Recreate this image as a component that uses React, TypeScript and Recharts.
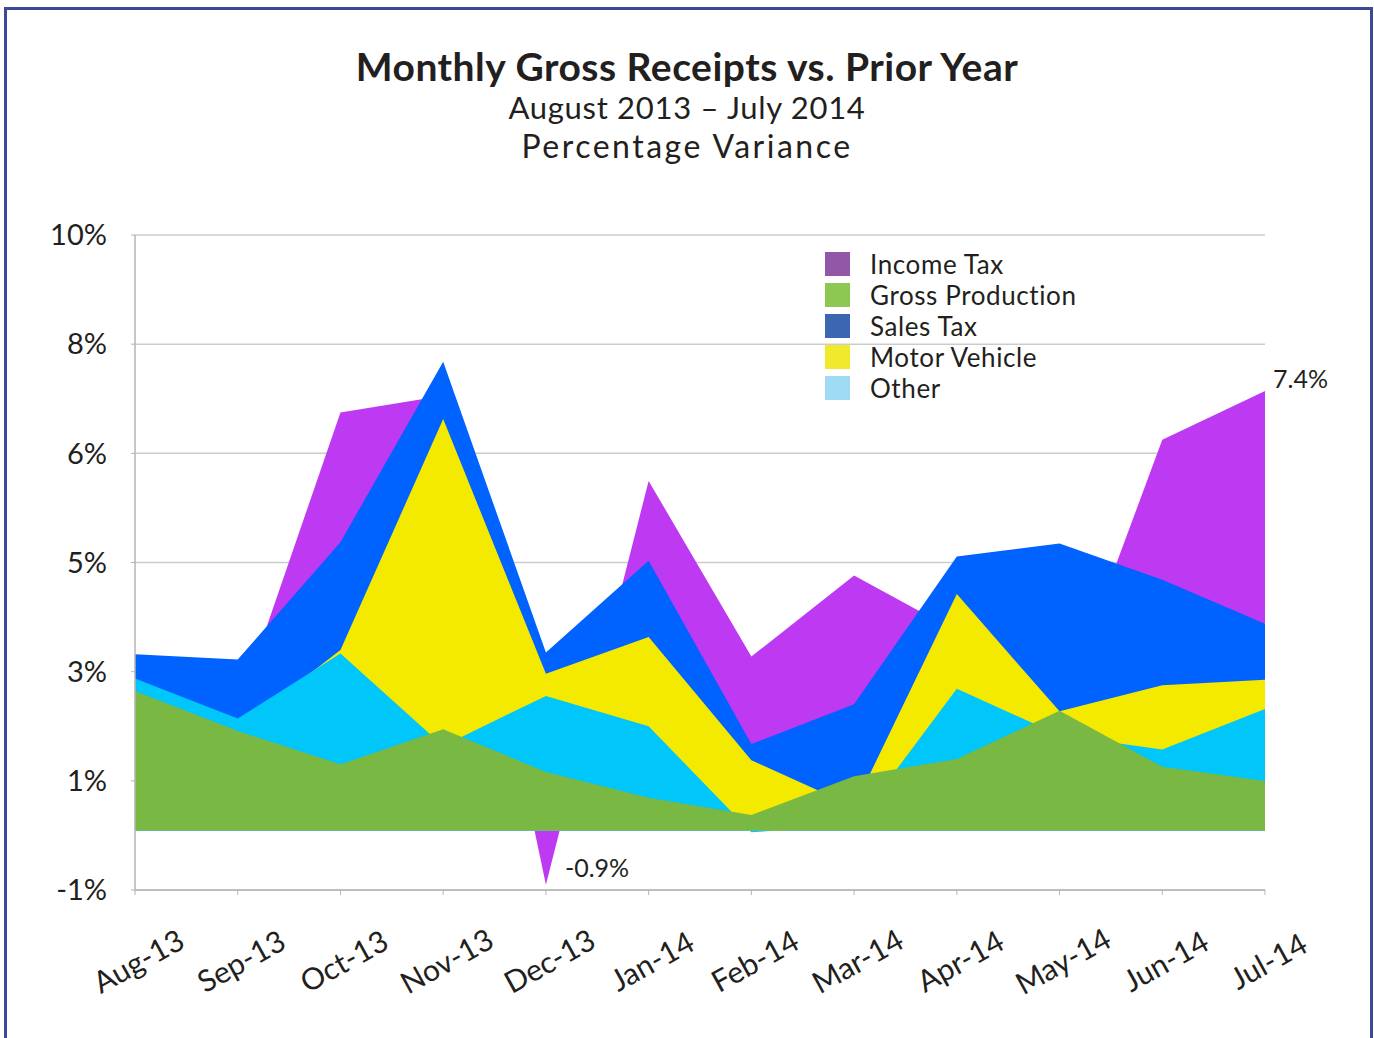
import React from 'react';
import { AreaChart, Area, XAxis, YAxis, CartesianGrid, LabelList } from 'recharts';

// values (percent variance vs prior year)
const months = ['Aug-13', 'Sep-13', 'Oct-13', 'Nov-13', 'Dec-13', 'Jan-14', 'Feb-14', 'Mar-14', 'Apr-14', 'May-14', 'Jun-14', 'Jul-14'];
const incomeTax = [2.5, 2.01, 7.02, 7.3, -0.91, 5.87, 2.92, 4.28, 3.34, 1.91, 6.56, 7.38];
const salesTax = [2.96, 2.87, 4.84, 7.87, 2.99, 4.53, 1.45, 2.12, 4.6, 4.82, 4.21, 3.47];
const motorVehicle = [2.5, 1.7, 3.03, 6.91, 2.63, 3.25, 1.18, 0.4, 3.97, 2.0, 2.44, 2.53];
const other = [2.55, 1.88, 2.97, 1.42, 2.26, 1.75, -0.03, 0.07, 2.38, 1.6, 1.36, 2.04];
const grossProduction = [2.34, 1.67, 1.11, 1.7, 0.98, 0.55, 0.26, 0.91, 1.2, 2.01, 1.07, 0.83];

// the axis runs -1..10 in six equal steps, labels are rounded
const yTicks = [-1, 0.8333, 2.6667, 4.5, 6.3333, 8.1667, 10];
const yTickLabels = ['-1%', '1%', '3%', '5%', '6%', '8%', '10%'];

const labeledMonths = ['Dec-13', 'Jul-14'];

const legendItems = [
  { name: 'Income Tax', color: '#9257a6' },
  { name: 'Gross Production', color: '#8cc852' },
  { name: 'Sales Tax', color: '#3c66b1' },
  { name: 'Motor Vehicle', color: '#f1e92b' },
  { name: 'Other', color: '#9fdcf4' },
];

const font = 'Lato, "Open Sans", sans-serif';
const textColor = '#231f20';

const data = months.map((m, i) => ({
  month: m,
  incomeTax: incomeTax[i],
  salesTax: salesTax[i],
  motorVehicle: motorVehicle[i],
  other: other[i],
  grossProduction: grossProduction[i],
}));

const XTick = (props: any) => {
  const { x, payload } = props;
  const cx = x + 3;
  const cy = 960;
  return (
    <text
      x={cx}
      y={cy}
      transform={`rotate(-29, ${cx}, ${cy})`}
      textAnchor="middle"
      dominantBaseline="central"
      fontSize={30}
      fontFamily={font}
      fill={textColor}
    >
      {payload.value}
    </text>
  );
};

const PointLabel = (props: any) => {
  const { x, y, value, index } = props;
  if (!labeledMonths.includes(months[index])) return null;
  const below = value < 0;
  return (
    <text
      x={x + (below ? 19 : 8)}
      y={y + (below ? -18 : -13)}
      dominantBaseline="central"
      fontSize={25}
      fontFamily={font}
      fill={textColor}
    >
      {`${Number(value).toFixed(1)}%`}
    </text>
  );
};

const Title = ({ text, top, size, weight, spacing }: { text: string; top: number; size: number; weight: number; spacing: number }) => (
  <div
    style={{
      position: 'absolute',
      left: 0,
      top,
      width: 1374,
      textAlign: 'center',
      fontSize: size,
      fontWeight: weight,
      letterSpacing: spacing,
      lineHeight: '40px',
      whiteSpace: 'nowrap',
    }}
  >
    {text}
  </div>
);

export default function App() {
  return (
    <div
      style={{
        position: 'fixed',
        left: 0,
        top: 0,
        width: 1374,
        height: 1038,
        overflow: 'hidden',
        background: '#fff',
        fontFamily: font,
        color: textColor,
      }}
    >
      <div
        style={{
          position: 'absolute',
          left: 4,
          top: 7,
          width: 1369,
          height: 1100,
          border: '3px solid #3a4a96',
          boxSizing: 'border-box',
        }}
      />
      <Title text="Monthly Gross Receipts vs. Prior Year" top={46} size={39} weight={700} spacing={0.5} />
      <Title text="August 2013 – July 2014" top={87} size={31} weight={400} spacing={0.7} />
      <Title text="Percentage Variance" top={126} size={32} weight={400} spacing={2.5} />

      <div style={{ position: 'absolute', left: 0, top: 0 }}>
        <AreaChart
          width={1374}
          height={1038}
          data={data}
          margin={{ top: 235, right: 109, bottom: 0, left: 0 }}
        >
          <CartesianGrid vertical={false} stroke="#cccccc" strokeWidth={1.5} />
          <XAxis
            dataKey="month"
            interval={0}
            height={148}
            tick={<XTick />}
            tickSize={5}
            axisLine={{ stroke: '#b4b4b4', strokeWidth: 1.5 }}
            tickLine={{ stroke: '#b4b4b4' }}
          />
          <YAxis
            type="number"
            domain={[-1, 10]}
            ticks={yTicks}
            width={135}
            tickSize={4}
            tickMargin={24}
            tickFormatter={(v: number, i: number) => yTickLabels[i]}
            tick={{ fontSize: 29, fill: textColor, fontFamily: font }}
            axisLine={{ stroke: '#b4b4b4', strokeWidth: 1.5 }}
            tickLine={{ stroke: '#b4b4b4' }}
          />
          <Area
            type="linear"
            dataKey="incomeTax"
            name="Income Tax"
            baseValue={0}
            stroke="none"
            fill="#bd3af2"
            fillOpacity={1}
            dot={false}
            activeDot={false}
            isAnimationActive={false}
          >
            <LabelList dataKey="incomeTax" content={<PointLabel />} />
          </Area>
          <Area
            type="linear"
            dataKey="salesTax"
            name="Sales Tax"
            baseValue={0}
            stroke="none"
            fill="#0062ff"
            fillOpacity={1}
            dot={false}
            activeDot={false}
            isAnimationActive={false}
          />
          <Area
            type="linear"
            dataKey="motorVehicle"
            name="Motor Vehicle"
            baseValue={0}
            stroke="none"
            fill="#f4ea00"
            fillOpacity={1}
            dot={false}
            activeDot={false}
            isAnimationActive={false}
          />
          <Area
            type="linear"
            dataKey="other"
            name="Other"
            baseValue={0}
            stroke="none"
            fill="#00c6fa"
            fillOpacity={1}
            dot={false}
            activeDot={false}
            isAnimationActive={false}
          />
          <Area
            type="linear"
            dataKey="grossProduction"
            name="Gross Production"
            baseValue={0}
            stroke="none"
            fill="#79b843"
            fillOpacity={1}
            dot={false}
            activeDot={false}
            isAnimationActive={false}
          />
        </AreaChart>
      </div>

      {/* legend sits inside the plot, top right */}
      <div style={{ position: 'absolute', left: 825, top: 252 }}>
        {legendItems.map((item) => (
          <div key={item.name} style={{ display: 'flex', alignItems: 'center', height: 31 }}>
            <div style={{ width: 25, height: 24, background: item.color, marginRight: 20, marginTop: -7 }} />
            <span style={{ fontSize: 26, letterSpacing: 0.6, lineHeight: '26px', marginTop: -7 }}>{item.name}</span>
          </div>
        ))}
      </div>
    </div>
  );
}
